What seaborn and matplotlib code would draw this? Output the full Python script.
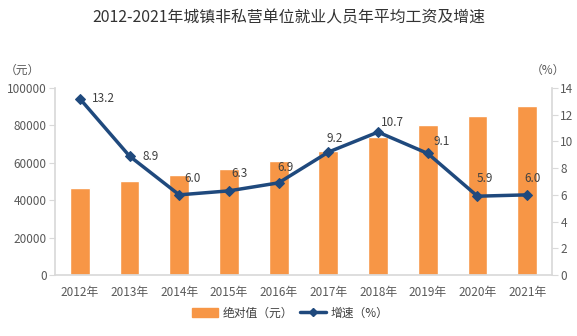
import numpy as np
import pandas as pd
import matplotlib
matplotlib.use("Agg")
import matplotlib.pyplot as plt
import seaborn as sns
from matplotlib.patches import Patch
from matplotlib.lines import Line2D

years = ["2012年", "2013年", "2014年", "2015年", "2016年", "2017年", "2018年", "2019年", "2020年", "2021年"]
wages = [46500, 50300, 53500, 56700, 61100, 66300, 74000, 80400, 85200, 90400]
growth = [13.2, 8.9, 6.0, 6.3, 6.9, 9.2, 10.7, 9.1, 5.9, 6.0]
label_offsets = [(12, 0, "left"), (13, 0, "left"), (13, 16, "center"), (11, 17, "center"),
                 (7, 15, "center"), (6, 14, "center"), (14, 10, "center"), (14, 12, "center"),
                 (7, 18, "center"), (5, 16, "center")]

sns.set_theme(style="white")
plt.rcParams['font.family'] = ['Noto Sans CJK SC', 'DejaVu Sans']

BAR = "#F79646"
LINE = "#1F497D"
TICK = "#595959"

fig = plt.figure(figsize=(5.77, 3.36), dpi=100)
ax = fig.add_axes([55/577, 1-275/336, (552-55)/577, (275-88)/336])

df = pd.DataFrame({"year": years, "wage": wages, "growth": growth})
sns.barplot(data=df, x="year", y="wage", color=BAR, width=0.4, ax=ax, saturation=1)
ax.set_ylim(0, 100000)
ax.set_yticks(np.arange(0, 100001, 20000))
ax.set_xlim(-0.5, 9.5)
ax.set_xlabel("")
ax.set_ylabel("")

ax2 = ax.twinx()
sns.lineplot(x=np.arange(len(years)), y=growth, ax=ax2, color=LINE, linewidth=2.5,
             marker="D", markersize=5, markeredgecolor=LINE)
ax2.set_ylim(0, 14)
ax2.set_yticks(np.arange(0, 15, 2))
ax2.set_xlim(-0.5, 9.5)

for i, (g, (dx, dy, ha)) in enumerate(zip(growth, label_offsets)):
    ax2.annotate(f"{g:.1f}", (i, g), xytext=(dx, dy), textcoords="offset pixels",
                 ha=ha, va="center", fontsize=8.5, color="#404040")

for a in (ax, ax2):
    for s in a.spines.values():
        s.set_visible(False)
    a.tick_params(axis="both", colors=TICK, labelsize=8.5, length=0)
    a.tick_params(axis="y", length=4, color="#D9D9D9", width=0.8)
ax.spines["bottom"].set_visible(True)
ax.spines["bottom"].set_color("#D9D9D9")
ax.spines["left"].set_visible(True)
ax.spines["left"].set_color("#D9D9D9")
ax2.spines["right"].set_visible(True)
ax2.spines["right"].set_color("#D9D9D9")
ax.tick_params(axis="x", pad=8)
ax.tick_params(axis="y", pad=2)
ax2.tick_params(axis="y", pad=2)

fig.text(289/577, 1-18/336, "2012-2021年城镇非私营单位就业人员年平均工资及增速",
         ha="center", va="center", fontsize=11.4, color="#333333", fontweight="medium")
fig.text(22/577, 1-70/336, "（元）", ha="center", va="center", fontsize=8.5, color=TICK)
fig.text(548/577, 1-70/336, "（%）", ha="center", va="center", fontsize=8.5, color=TICK)

handles = [Patch(color=BAR, label="绝对值（元）"),
           Line2D([0], [0], color=LINE, lw=2.5, marker="D", markersize=4, label="增速（%）")]
fig.legend(handles=handles, loc="center", bbox_to_anchor=(290/577, 1-313/336), ncol=2,
           frameon=False, fontsize=8.5, handlelength=2.2, handletextpad=0.4, columnspacing=0.6,
           labelcolor="#404040")

fig.savefig("out.png", dpi=100)
